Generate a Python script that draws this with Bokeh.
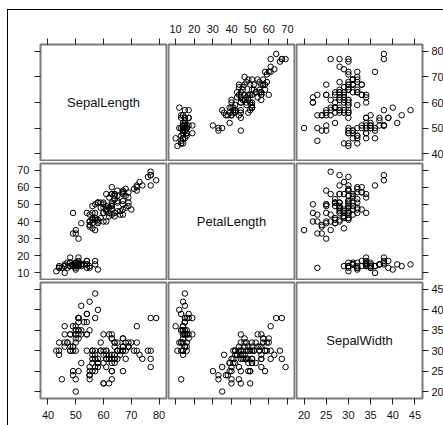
from bokeh.plotting import figure
from bokeh.layouts import gridplot
from bokeh.models import LinearAxis, FixedTicker, Range1d
from bokeh.embed import file_html
from bokeh.resources import INLINE
from bokeh.core.properties import value

# ---- data (iris, mm) ----
var_names = ["SepalLength", "PetalLength", "SepalWidth"]

sepal_length = [51,49,47,46,50,54,46,50,44,49,54,48,48,43,58,57,54,51,57,51,54,51,46,51,48,50,50,52,52,47,48,54,52,55,49,50,55,49,44,51,50,45,44,50,51,48,51,46,53,50,
                70,64,69,55,65,57,63,49,66,52,50,59,60,61,56,67,56,58,62,56,59,61,63,61,64,66,68,67,60,57,55,55,58,60,54,60,67,63,56,55,55,61,58,50,56,57,57,62,51,57,
                63,58,71,63,65,76,49,73,67,72,65,64,68,57,58,64,65,77,77,60,69,56,77,63,67,72,62,61,64,72,74,79,64,63,61,77,63,64,60,69,67,69,58,68,67,67,63,65,62,59]

sepal_width = [35,30,32,31,36,39,34,34,29,31,37,34,30,30,40,44,39,35,38,38,34,37,36,33,34,30,34,35,34,32,31,34,41,42,31,32,35,36,30,34,35,23,32,35,38,30,38,32,37,33,
               32,32,31,23,28,28,33,24,29,27,20,30,22,29,29,31,30,27,22,25,32,28,25,28,29,30,28,30,29,26,24,24,27,27,30,34,31,23,30,25,26,30,26,23,27,30,29,29,25,28,
               33,27,30,29,30,30,25,29,25,36,32,27,30,25,28,32,30,38,26,22,32,28,28,27,33,32,28,30,28,30,28,38,28,28,26,30,34,31,30,31,31,31,27,32,33,30,25,30,34,30]

petal_length = [14,14,13,15,14,17,14,15,14,15,15,16,14,11,12,15,13,14,17,15,17,15,10,17,19,16,16,15,14,16,16,15,15,14,15,12,13,14,13,15,13,13,13,16,19,14,16,14,15,14,
                47,45,49,40,46,45,47,33,46,39,35,42,40,47,36,44,45,41,45,39,48,40,49,47,43,44,48,50,45,35,38,37,39,51,45,45,47,44,41,40,44,46,40,33,42,42,42,43,30,41,
                60,51,59,56,58,66,45,63,58,61,51,53,55,50,51,53,55,67,69,50,57,49,67,49,57,60,48,49,56,58,61,64,56,51,56,61,56,55,48,54,56,51,51,59,57,52,50,52,54,51]

sl_ticks = [40, 50, 60, 70, 80]
pl_ticks = [10, 20, 30, 40, 50, 60, 70]
sw_ticks = [20, 25, 30, 35, 40, 45]

data = [sepal_length, petal_length, sepal_width]
ticks = [sl_ticks, pl_ticks, sw_ticks]
limits = [(37.3, 82.7), (6.2, 73.8), (18.3, 46.7)]

FONT = "Liberation Sans"


def make_axis(tick_list, labelled, standoff):
    ax = LinearAxis(ticker=FixedTicker(ticks=tick_list))
    ax.axis_line_color = None
    ax.major_tick_in = 0
    ax.major_tick_out = 6
    ax.major_tick_line_color = "#222222"
    ax.minor_tick_line_color = None
    ax.major_label_text_font = FONT
    ax.major_label_text_font_size = "11px"
    ax.major_label_text_color = "#111111"
    ax.major_label_standoff = standoff
    if not labelled:
        ax.major_label_overrides = {t: "" for t in tick_list}
        ax.major_label_standoff = 0
    return ax


rows = []
for r in range(3):
    row = []
    for c in range(3):
        p = figure(
            frame_width=126, frame_height=116,
            x_range=Range1d(*limits[c]), y_range=Range1d(*limits[r]),
            x_axis_location=None, y_axis_location=None,
            toolbar_location=None, output_backend="svg",
            min_border_left=32 if c == 0 else 1,
            min_border_right=21 if c == 2 else 1,
            min_border_top=34 if r == 0 else 2,
            min_border_bottom=27 if r == 2 else 1,
            background_fill_color="white", border_fill_color="white",
        )
        p.grid.visible = False
        p.outline_line_color = "#7a7a7a"
        p.outline_line_width = 2

        if r == 0:
            p.add_layout(make_axis(ticks[c], c == 1, 6), "above")
        if r == 2:
            p.add_layout(make_axis(ticks[c], c in (0, 2), 6), "below")
        if c == 0:
            p.add_layout(make_axis(ticks[r], r == 1, 5), "left")
        if c == 2:
            p.add_layout(make_axis(ticks[r], r in (0, 2), 3), "right")

        if r == c:
            mid = (limits[r][0] + limits[r][1]) / 2
            p.text(x=[mid], y=[mid], text=[var_names[r]],
                   text_align="center", text_baseline="middle",
                   text_font=value(FONT), text_font_size="13px",
                   text_color="#111111")
        else:
            p.scatter(x=data[c], y=data[r], marker="circle", size=5.5,
                      fill_color=None, line_color="black", line_width=1)
        row.append(p)
    rows.append(row)

grid = gridplot(rows, toolbar_location=None)
grid.styles = {"margin-left": "7px", "margin-top": "9px",
               "border-left": "1px solid black", "border-top": "1px solid black"}

open("out.html", "w").write(file_html(grid, INLINE))
